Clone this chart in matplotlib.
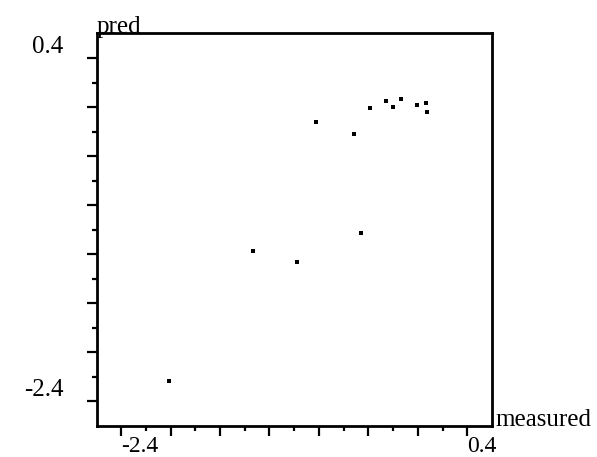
import numpy as np
import matplotlib
matplotlib.use("Agg")
import matplotlib.pyplot as plt
from matplotlib.ticker import FixedLocator

measured = [-2.016, -1.331, -0.974, -0.457, -0.822, -0.516, -0.387,
            -0.255, -0.203, -0.133, -0.004, 0.069, 0.077]
pred = [-2.229, -1.169, -1.262, -1.028, -0.118, -0.215, -0.007,
        0.053, 0.004, 0.063, 0.020, 0.031, -0.039]

major_ticks = [-2.4, -2.0, -1.6, -1.2, -0.8, -0.4, 0.0, 0.4]
minor_ticks = [-2.2, -1.8, -1.4, -1.0, -0.6, -0.2, 0.2]
tick_labels = ["-2.4", "", "", "", "", "", "", "0.4"]

plt.rcParams['font.family'] = ['Liberation Serif', 'DejaVu Serif']

fig = plt.figure(figsize=(5.97, 4.57), dpi=100)
ax = fig.add_axes([97/597, 1-426/457, 395/597, 393/457])

ax.plot(measured, pred, 's', color='black', markersize=2.4, markeredgewidth=0)

ax.set_xlim(-2.595, 0.6)
ax.set_ylim(-2.6, 0.605)

for sp in ax.spines.values():
    sp.set_linewidth(2)

ax.xaxis.set_major_locator(FixedLocator(major_ticks))
ax.xaxis.set_minor_locator(FixedLocator(minor_ticks))
ax.yaxis.set_major_locator(FixedLocator(major_ticks))
ax.yaxis.set_minor_locator(FixedLocator(minor_ticks))
ax.set_xticklabels(tick_labels)
ax.set_yticklabels(tick_labels)

ax.tick_params(which='major', length=7, width=1.6, direction='out', labelsize=18)
ax.tick_params(which='minor', length=3.5, width=1.6, direction='out')
ax.tick_params(axis='x', which='major', pad=0, labelsize=17)
ax.tick_params(axis='y', which='major', pad=17)

for lab in ax.get_xticklabels():
    lab.set_horizontalalignment('left')
for lab in ax.get_yticklabels():
    lab.set_verticalalignment('bottom')

ax.text(0.0, 1.0, "pred", transform=ax.transAxes, fontsize=18,
        ha='left', va='baseline')
ax.text(1.01, 0.0, "measured", transform=ax.transAxes, fontsize=18,
        ha='left', va='baseline')

fig.savefig("out.png", dpi=100)
